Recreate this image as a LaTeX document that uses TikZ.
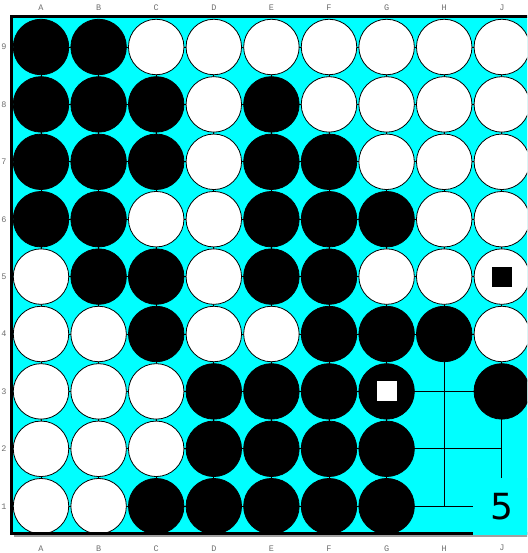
\documentclass[tikz,border=0pt]{standalone}
\usepackage{fontspec}
\usetikzlibrary{calc}
\newfontfamily\labfont{Liberation Mono}
\newfontfamily\bigfont{DejaVu Sans}
\definecolor{boardcyan}{RGB}{0,255,255}
\definecolor{labgray}{RGB}{110,110,110}
\definecolor{shadowgray}{RGB}{160,160,160}
\begin{document}
\begin{tikzpicture}[x=1pt,y=-1pt,
  gridline/.style={draw=black,line width=0.8pt},
  borderline/.style={draw=black,line width=3pt},
  bstone/.style={circle,draw=black,fill=black,minimum size=55.5pt,inner sep=0pt,line width=0.8pt},
  wstone/.style={circle,draw=black,fill=white,minimum size=55.5pt,inner sep=0pt,line width=0.8pt},
  bmark/.style={rectangle,fill=black,minimum size=20pt,inner sep=0pt},
  wmark/.style={rectangle,fill=white,minimum size=20pt,inner sep=0pt},
  coordlabel/.style={text=labgray,font=\labfont\fontsize{8.5}{9}\selectfont,inner sep=0pt},
  movelabel/.style={fill=boardcyan,minimum width=57.6pt,minimum height=57.4pt,inner sep=0pt,font=\bigfont\fontsize{36}{36}\selectfont}
]
\useasboundingbox (0,0) rectangle (527,553);
\clip (0,0) rectangle (527,553);
% grid coordinates
\foreach \c [count=\i from 0] in {A,B,C,D,E,F,G,H,J}{
  \foreach \r in {1,...,9}{
    \coordinate (\c\r) at ({41+57.6*\i},{47+57.4*(9-\r)});
  }
}
% board
\coordinate (tl) at (11,17);
\coordinate (tr) at (533,17);
\coordinate (bl) at (11,533.5);
\coordinate (br) at (533,533.5);
\fill[shadowgray] (13.5,19.5) rectangle (536,536.5);
\fill[boardcyan] (tl) rectangle (br);
% grid lines
\foreach \c in {A,B,C,D,E,F,G,H,J}{\draw[gridline] (\c9) -- (\c1);}
\foreach \r in {1,...,9}{\draw[gridline] (A\r) -- (J\r);}
% stones
\foreach \p in {A9,B9,A8,B8,C8,E8,A7,B7,C7,E7,F7,A6,B6,E6,F6,G6,B5,C5,E5,F5,C4,F4,G4,H4,D3,E3,F3,G3,J3,D2,E2,F2,G2,C1,D1,E1,F1,G1}{
  \node[bstone] (s-\p) at (\p) {};
}
\foreach \p in {C9,D9,E9,F9,G9,H9,J9,D8,F8,G8,H8,J8,D7,G7,H7,J7,C6,D6,H6,J6,A5,D5,G5,H5,J5,A4,B4,D4,E4,J4,A3,B3,C3,A2,B2,C2,A1,B1}{
  \node[wstone] (s-\p) at (\p) {};
}
% markers
\node[bmark] (m-J5) at (J5) {};
\node[wmark] (m-G3) at (G3) {};
% border
\draw[borderline] (br) -- (bl) -- (tl) -- (tr);
% move label
\node[movelabel] (lab-J1) at (J1) {5};
% coordinate labels
\foreach \c in {A,B,C,D,E,F,G,H,J}{
  \node[coordlabel] (top-\c) at ($(\c9)+(0,-39)$) {\c};
  \node[coordlabel] (bot-\c) at ($(\c1)+(0,42)$) {\c};
}
\foreach \r in {1,...,9}{
  \node[coordlabel] (num-\r) at ($(A\r)+(-37,0)$) {\r};
}
\end{tikzpicture}
\end{document}
